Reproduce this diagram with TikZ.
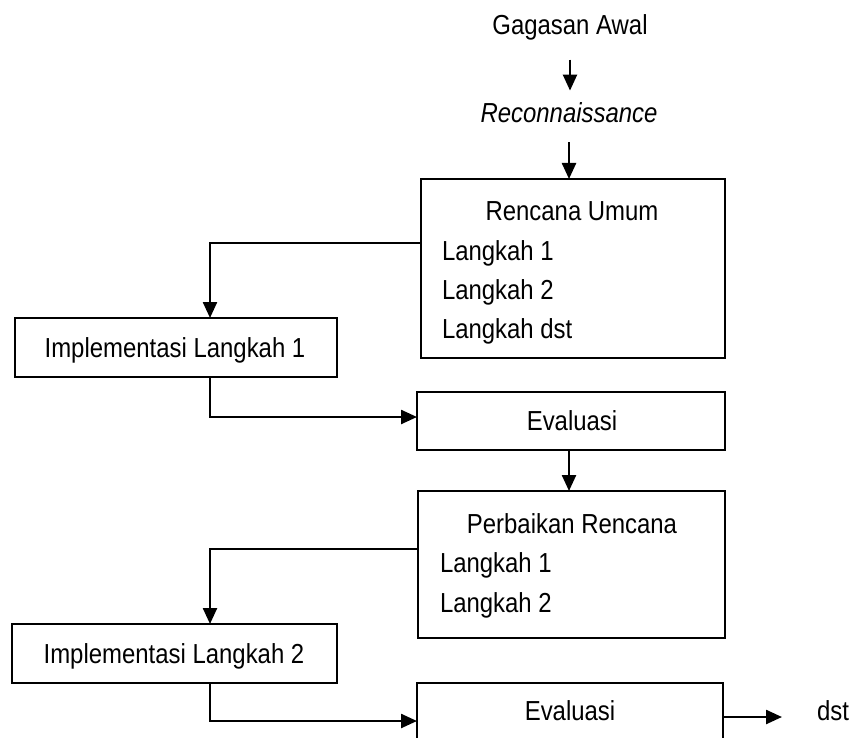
\documentclass[tikz,border=0pt]{standalone}
\usepackage{fontspec}
\setmainfont{Liberation Sans}[FakeStretch=0.87]
\usetikzlibrary{arrows.meta}
\begin{document}
\begin{tikzpicture}[x=1pt,y=-1pt,
  every node/.style={font=\fontsize{27.5}{33}\selectfont, inner sep=0pt, outer sep=0pt},
  box/.style={draw, line width=2.4pt, rectangle},
  lbl/.style={anchor=base},
  lft/.style={anchor=base west},
  conn/.style={line width=2.4pt, -{Triangle[length=16pt,width=14pt]}}]
\useasboundingbox (0,0) rectangle (853,738);
\clip (0,0) rectangle (853,738);
% boxes
\node[box, minimum width=304pt, minimum height=179pt] (ru) at (573,268.5) {};
\node[box, minimum width=322pt, minimum height=59pt] (i1) at (176,347.5) {};
\node[box, minimum width=308pt, minimum height=58pt] (e1) at (571,421) {};
\node[box, minimum width=307pt, minimum height=147pt] (pr) at (571.5,564.5) {};
\node[box, minimum width=325pt, minimum height=59pt] (i2) at (174.5,653.5) {};
\node[box, minimum width=306pt, minimum height=80pt] (e2) at (570,723) {};
% texts
\node[lbl] (ga) at (570,35) {Gagasan Awal};
\node[lbl] (re) at (569,123) {\itshape Reconnaissance};
\node[lbl] (rut) at (572,220) {Rencana Umum};
\node[lft] (ru1) at (442,260) {Langkah 1};
\node[lft] (ru2) at (442,299) {Langkah 2};
\node[lft] (ru3) at (442,338) {Langkah dst};
\node[lbl] (i1t) at (175,357) {Implementasi Langkah 1};
\node[lbl] (e1t) at (572,430) {Evaluasi};
\node[lbl] (prt) at (572,533) {Perbaikan Rencana};
\node[lft] (pr1) at (440,572) {Langkah 1};
\node[lft] (pr2) at (440,612) {Langkah 2};
\node[lbl] (i2t) at (174,663) {Implementasi Langkah 2};
\node[lbl] (e2t) at (570,720) {Evaluasi};
\node[lft] (dst) at (817,720) {dst};
% connectors
\draw[conn, shorten <=19pt, shorten >=12.5pt] (ga.south) -- (ga.south |- re.north);
\draw[conn, shorten <=19pt] (re.south) -- (re.south |- ru.north);
\draw[conn] (e1.south -| re.south) -- (re.south |- pr.north);
\coordinate (k1) at (210,243);
\draw[conn] (ru.west |- k1) -- (k1) -- (k1 |- i1.north);
\coordinate (k2) at (210,417);
\draw[conn] (k2 |- i1.south) -- (k2) -- (k2 -| e1.west);
\coordinate (k3) at (210,549);
\draw[conn] (pr.west |- k3) -- (k3) -- (k3 |- i2.north);
\coordinate (k4) at (210,721);
\draw[conn] (k4 |- i2.south) -- (k4) -- (k4 -| e2.west);
\coordinate (k5) at (782,717);
\draw[conn] (e2.east |- k5) -- (k5);
\end{tikzpicture}
\end{document}
